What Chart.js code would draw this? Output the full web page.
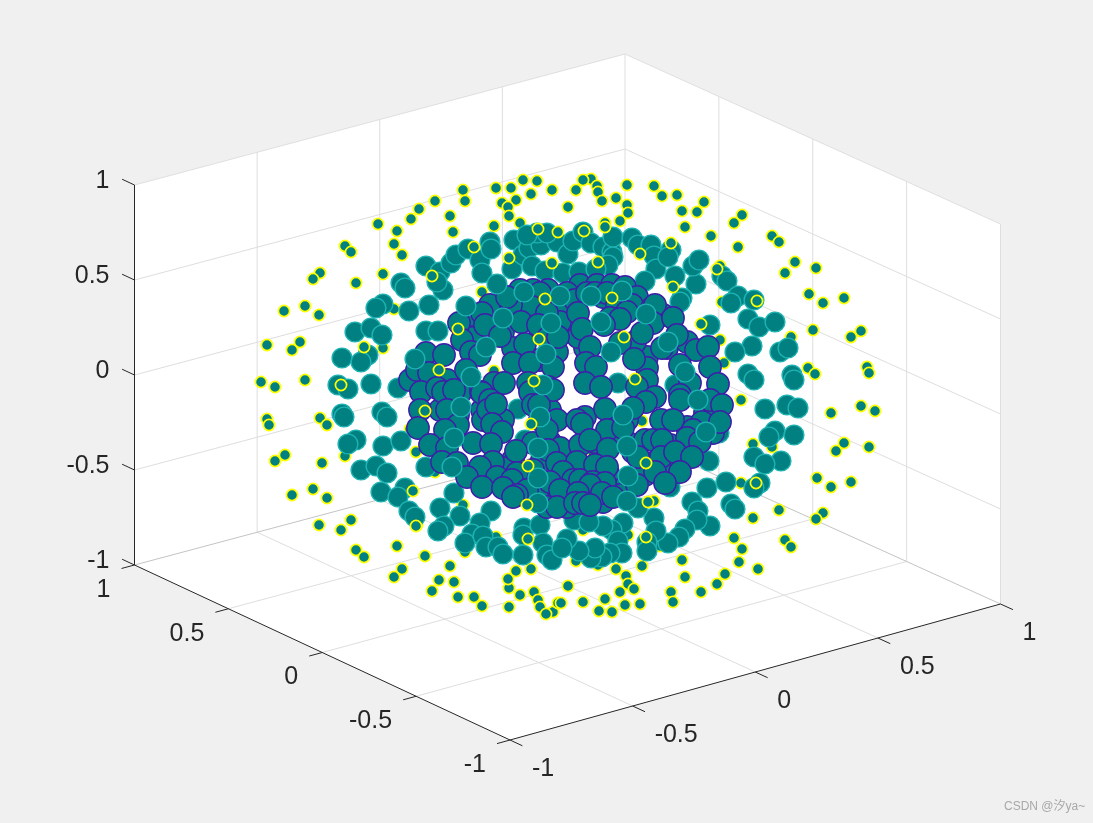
<!DOCTYPE html>
<html>
<head>
<meta charset="utf-8">
<script src="https://cdn.jsdelivr.net/npm/chart.js@4"></script>
<style>
  html, body { margin: 0; padding: 0; background: #f0f0f0; }
  canvas { display: block; }
</style>
</head>
<body>
<canvas id="myGraph" width="1093" height="823"></canvas>
<script>
// tick values, the same on the three axes
const tickValues = [-1, -0.5, 0, 0.5, 1];
const tickLabels = ['-1', '-0.5', '0', '0.5', '1'];

// points, as [across, down] on the projected view
// small yellow ones behind the rest
const smallBack = [[378,224],[397,231],[411,219],[419,209],[435,201],[463,190],[465,201],[450,216],[453,232],[496,188],[511,188],[523,180],[537,181],[531,194],[552,190],[516,200],[502,203],[508,207],[509,216],[520,223],[494,226],[394,244],[402,255],[345,246],[351,252],[320,273],[313,279],[356,283],[383,274],[284,311],[305,306],[319,315],[394,309],[482,292],[267,345],[300,342],[292,350],[383,348],[261,382],[275,387],[305,380],[494,371],
[591,179],[583,180],[576,190],[597,186],[598,192],[602,201],[568,207],[616,198],[627,185],[627,205],[628,213],[620,221],[605,223],[654,186],[662,196],[677,195],[704,202],[682,211],[697,212],[685,227],[742,215],[734,223],[711,236],[738,247],[772,236],[779,242],[795,262],[785,273],[816,268],[809,294],[823,303],[844,298],[813,330],[861,331],[851,337],[808,368],[815,374],[867,367],[869,373],[720,266],[722,302],[720,340],[791,337],[724,363],
[267,419],[269,425],[320,418],[327,425],[285,455],[275,461],[322,463],[345,456],[416,452],[292,495],[313,489],[327,498],[319,525],[341,530],[351,520],[356,550],[364,557],[397,546],[425,556],[402,569],[394,577],[450,566],[439,580],[454,582],[432,591],[458,597],[474,597],[482,606],[509,607],[520,595],[509,588],[508,579],[516,571],[531,569],[534,592],[538,600],[540,607],[553,612],[546,614],[558,603],[465,552],[496,537],[463,505],[410,429],[435,472],[417,525],
[831,413],[861,406],[875,411],[844,443],[836,451],[869,447],[817,478],[831,487],[851,482],[753,444],[772,447],[741,483],[779,510],[753,518],[823,513],[816,519],[785,540],[791,547],[734,538],[742,549],[739,562],[758,569],[725,574],[717,584],[701,592],[682,560],[685,577],[671,592],[673,602],[642,566],[616,569],[626,576],[628,584],[634,589],[620,592],[605,599],[583,602],[625,605],[640,604],[599,611],[612,612],[568,586],[561,603],[642,421],[654,501],[660,546],[576,561],[598,565],[628,535],[583,530],[593,452]];

// medium cyan-edged ones behind the centre
const midBack = [[401,283],[405,288],[426,266],[440,272],[451,263],[456,255],[468,249],[480,260],[482,273],[490,242],[491,249],[443,290],[437,282],[429,305],[409,311],[383,304],[376,308],[355,332],[371,328],[382,335],[342,358],[368,355],[361,362],[371,384],[338,385],[348,389],[398,388],[426,331],
[514,240],[512,269],[523,255],[529,248],[532,266],[541,245],[545,271],[557,242],[537,233],[547,233],[527,235],[568,254],[563,273],[579,272],[573,241],[583,232],[591,243],[603,247],[612,252],[613,257],[608,265],[596,269],[613,237],[632,238],[638,245],[651,245],[654,256],[656,269],[645,281],[671,250],[668,257],[675,276],[696,284],[693,266],[699,260],[682,298],[680,302],[722,276],[727,281],[738,296],[731,303],[754,300],[748,319],[759,327],[775,322],[752,346],[735,352],[780,352],[788,348],[748,374],[754,380],[792,375],[794,380],[710,325],[618,383],[675,385],
[342,414],[344,417],[382,412],[387,417],[356,440],[348,444],[383,446],[401,441],[361,470],[376,466],[387,473],[381,492],[405,488],[398,497],[409,511],[415,517],[440,508],[454,493],[460,516],[491,511],[444,526],[438,531],[480,523],[472,534],[465,543],[483,536],[486,547],[498,547],[503,554],[524,528],[523,535],[540,525],[543,543],[523,555],[547,555],[552,560],[426,467],[518,409],[525,440],
[765,409],[787,405],[798,408],[775,431],[794,435],[769,437],[781,461],[754,457],[765,464],[760,483],[754,488],[726,482],[707,488],[731,504],[735,509],[692,502],[698,511],[710,526],[697,520],[685,529],[679,537],[668,543],[654,518],[656,531],[647,542],[647,551],[638,508],[623,523],[612,530],[603,526],[618,541],[622,553],[610,553],[602,557],[591,558],[595,548],[579,551],[567,539],[562,548],[574,520],[589,522],[709,461],[719,433],[670,487]];

// large purple-edged ones, the inner shell, farthest first
const largeInner = [[667,348],[647,357],[647,368],[585,348],[578,337],[635,342],[687,342],[663,315],[650,315],[603,297],[580,285],[597,285],[612,285],[625,287],[490,305],[518,297],[533,290],[548,290],[567,293],[567,308],[560,322],[472,338],[470,315],[503,332],[525,352],[540,360],[557,352],[513,348],[410,380],[460,393],[447,380],
[437,445],[452,437],[458,415],[440,410],[482,410],[483,420],[503,420],[550,410],[557,420],[540,420],[550,442],[560,448],[533,443],[542,460],[533,470],[513,460],[503,468],[487,480],[547,490],[537,495],[563,483],[567,507],[595,442],[585,417],[577,420],[613,422],[620,430],[627,420],[625,440],[633,452],[645,440],[670,445],[677,453],[670,463],[653,463],[645,475],[665,475],[687,427],[693,440],[713,433],[705,413],[715,407],[617,485],[620,495],[583,473],[577,470],[608,473],[572,490],[593,495],[603,502],
[520,290],[540,293],[575,300],[587,293],[595,293],[607,293],[637,297],[532,307],[547,313],[511,305],[507,297],[482,313],[617,305],[632,305],[627,312],[652,308],[655,305],[578,313],[610,318],[620,319],[604,325],[521,322],[538,325],[485,325],[459,323],[582,329],[653,323],[673,318],[548,338],[558,337],[500,336],[462,340],[642,333],[677,335],[620,343],[525,344],[590,347],[662,348],[696,350],[708,347],
[426,353],[444,355],[471,352],[480,355],[513,363],[530,363],[553,367],[586,363],[596,367],[634,359],[680,365],[710,367],[417,370],[429,373],[466,370],[647,380],[690,383],[718,384],[528,383],[548,387],[494,383],[504,383],[585,383],[601,387],[637,387],[421,392],[437,388],[443,392],[454,390],[481,392],[482,393],[530,392],[553,390],[680,395],[490,400],[655,397],[680,400],[710,400],[646,402],
[420,410],[447,410],[488,410],[496,404],[533,405],[539,405],[605,409],[633,408],[722,405],[492,424],[458,425],[418,428],[445,430],[502,432],[547,430],[582,424],[607,430],[623,428],[661,420],[673,420],[702,422],[720,422],[693,430],[430,445],[447,448],[473,443],[491,444],[548,450],[580,445],[590,440],[608,449],[653,440],[662,440],[687,438],[700,442],[516,451],[442,462],[457,463],[493,462],[557,463],[577,462],[595,465],[607,467],[638,457],[661,457],[675,452],[692,457],[480,467],[467,477],[497,477],[517,473],[563,472],[655,472],[680,472],[512,480],[573,480],[580,480],[593,482],[605,483],[637,485],[665,483],[482,487],[503,488],[527,490],[550,482],[560,490],[590,485],[517,495],[513,497],[578,493],[602,493],[613,497],[547,507],[557,507],[575,503],[583,503],[590,505]];

// medium ones in front of the inner shell
const midFront = [[415,359],[438,331],[471,377],[466,306],[503,318],[486,347],[497,284],[524,292],[551,323],[546,354],[543,385],[560,296],[591,296],[601,322],[611,352],[622,291],[646,314],[668,342],[685,372],[698,400],[454,438],[452,467],[461,407],[538,478],[538,448],[540,417],[538,503],[623,415],[627,446],[628,476],[627,501],[706,432]];

// small ones nearest the viewer, they show as rings on the fill below
const smallFront = [[474,247],[509,258],[538,229],[558,232],[552,263],[432,276],[545,299],[458,329],[539,339],[439,370],[534,381],[341,385],[364,347],[584,231],[605,227],[598,262],[640,254],[671,243],[717,269],[757,301],[673,287],[612,298],[624,337],[701,324],[635,379],[741,400],[425,411],[531,424],[528,466],[527,505],[528,539],[413,491],[416,526],[646,463],[648,502],[646,537],[756,483]];

const fillTeal = 'rgb(0,128,128)';

// view of the box: where the axes limits land on the projected plane
const corner = { leftX: 134.5, frontX: 510, rightX: 1000.5, floorLeft: 565, floorFront: 740, floorRight: 604, height: 380, backDrop: 5 };

function project(x, y, z) {
  const u = (x + 1) / 2, v = (1 - y) / 2, w = (z + 1) / 2;
  return {
    x: corner.leftX + v * (corner.frontX - corner.leftX) + u * (corner.rightX - corner.frontX),
    y: corner.floorLeft + v * (corner.floorFront - corner.floorLeft) + u * (corner.floorRight - corner.floorFront) - w * corner.height + u * (1 - v) * corner.backDrop
  };
}

function seg(a, b, color, width) {
  return {
    type: 'scatter', data: [a, b], showLine: true, pointRadius: 0,
    borderColor: color, borderWidth: width || 1, backgroundColor: color
  };
}

function pts(list, edge, radius, width) {
  return {
    type: 'scatter', data: list.map(p => ({ x: p[0], y: p[1] })),
    backgroundColor: fillTeal, borderColor: edge, borderWidth: width,
    pointRadius: radius, pointHoverRadius: radius
  };
}

const gridColor = '#dedede';
const edgeColor = '#c4c4c4';
const axisColor = '#262626';
const lines = [];

// white walls and floor
lines.push({
  type: 'scatter', showLine: true, pointRadius: 0, borderWidth: 0, fill: 'shape', backgroundColor: '#ffffff',
  data: [project(-1, 1, 1), project(1, 1, 1), project(1, -1, 1), project(1, -1, -1), project(-1, -1, -1), project(-1, 1, -1)]
});

// grid lines
tickValues.slice(1, -1).forEach(t => {
  lines.push(seg(project(t, -1, -1), project(t, 1, -1), gridColor));
  lines.push(seg(project(-1, t, -1), project(1, t, -1), gridColor));
  lines.push(seg(project(t, 1, -1), project(t, 1, 1), gridColor));
  lines.push(seg(project(1, t, -1), project(1, t, 1), gridColor));
  lines.push(seg(project(-1, 1, t), project(1, 1, t), gridColor));
  lines.push(seg(project(1, 1, t), project(1, -1, t), gridColor));
});

// box edges at the back
lines.push(seg(project(-1, 1, 1), project(1, 1, 1), gridColor));
lines.push(seg(project(1, 1, 1), project(1, -1, 1), gridColor));
lines.push(seg(project(1, 1, -1), project(1, 1, 1), gridColor));
lines.push(seg(project(1, -1, -1), project(1, -1, 1), gridColor));
lines.push(seg(project(-1, 1, -1), project(1, 1, -1), edgeColor));
lines.push(seg(project(1, 1, -1), project(1, -1, -1), edgeColor));

// the three axes with their tick marks
lines.push(seg(project(-1, 1, -1), project(-1, 1, 1), axisColor));
lines.push(seg(project(-1, 1, -1), project(-1, -1, -1), axisColor));
lines.push(seg(project(-1, -1, -1), project(1, -1, -1), axisColor));
tickValues.forEach(t => {
  lines.push(seg(project(-1, 1, t), project(-1, 1.066, t), axisColor));
  lines.push(seg(project(t, -1, -1), project(t, -1.066, -1), axisColor));
  lines.push(seg(project(-1, t, -1), project(-1.053, t, -1), axisColor));
});

const marks = [
  pts(smallBack, 'rgb(255,255,0)', 5.6, 1.7),
  pts(midBack, 'rgb(30,178,178)', 9.9, 1.4),
  pts(largeInner, 'rgb(62,30,168)', 11.2, 1.4),
  pts(midFront, 'rgb(30,178,178)', 9.9, 1.4),
  pts(smallFront, 'rgb(255,255,0)', 5.6, 1.7)
];

// back to front, the chart paints the lowest order last
const datasets = lines.concat(marks);
datasets.forEach((d, i) => { d.order = datasets.length - i; });

// label anchors sit a fixed way off each axis
const labelPlugin = {
  id: 'boxLabels',
  afterDatasetsDraw(chart) {
    const c = chart.ctx, sx = chart.scales.x, sy = chart.scales.y;
    const put = (txt, p, align) => {
      c.textAlign = align;
      c.fillText(txt, sx.getPixelForValue(p.x), sy.getPixelForValue(p.y));
    };
    c.save();
    c.font = '25px "Liberation Sans"';
    c.fillStyle = '#262626';
    c.textBaseline = 'middle';
    tickValues.forEach((t, i) => {
      const zp = project(-1, 1, t);
      put(tickLabels[i], { x: zp.x - 25, y: zp.y - 4 }, 'right');
      const xp = project(t, -1, -1);
      put(tickLabels[i], { x: xp.x + 22, y: xp.y + 29 }, 'left');
      const yp = project(-1, t, -1);
      put(tickLabels[i], { x: yp.x - 24, y: yp.y + 25 }, 'right');
    });
    c.font = '12px "Liberation Sans", "Noto Sans CJK SC"';
    c.fillStyle = '#a8a8a8';
    c.textAlign = 'left';
    c.fillText('CSDN @汐ya~', 1004, 807);
    c.restore();
  }
};

new Chart(document.getElementById('myGraph'), {
  type: 'scatter',
  data: { datasets: datasets },
  options: {
    responsive: false,
    animation: false,
    events: [],
    layout: { padding: 0, autoPadding: false },
    plugins: { legend: { display: false }, tooltip: { enabled: false } },
    scales: {
      x: { type: 'linear', display: false, min: 0, max: 1093 },
      y: { type: 'linear', display: false, min: 0, max: 823, reverse: true }
    }
  },
  plugins: [labelPlugin]
});
</script>
</body>
</html>
